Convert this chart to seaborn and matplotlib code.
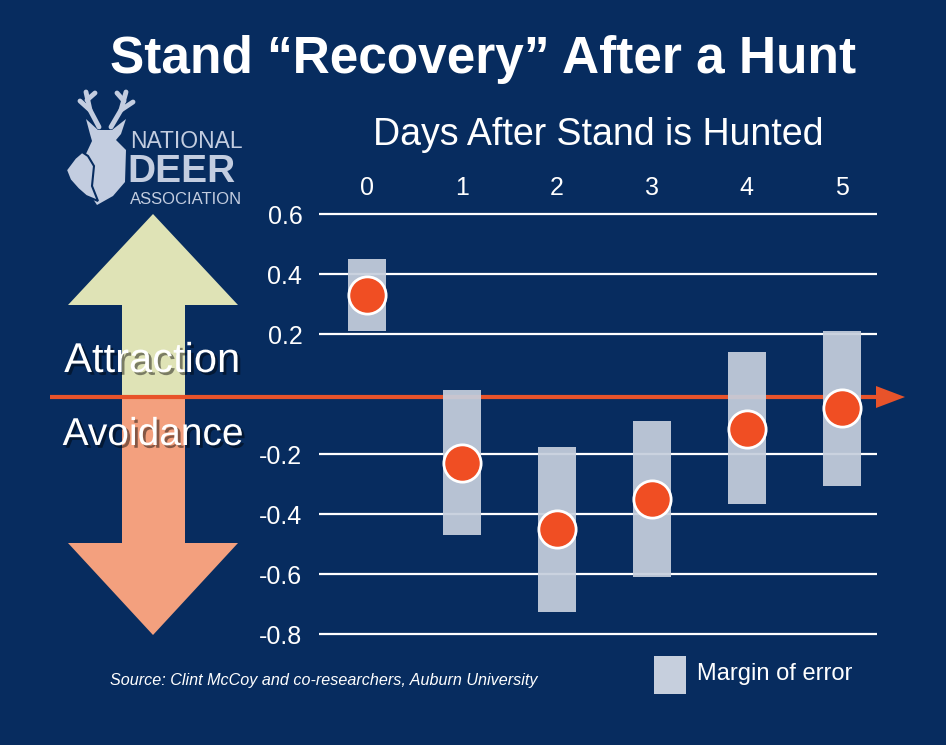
import matplotlib
matplotlib.use("Agg")
import matplotlib.pyplot as plt
import matplotlib.patheffects as pe
from matplotlib.patches import Polygon, Rectangle
import pandas as pd
import seaborn as sns

# data
days = [0, 1, 2, 3, 4, 5]
estimate = [0.33, -0.23, -0.45, -0.35, -0.115, -0.045]
lower = [0.21, -0.47, -0.725, -0.61, -0.365, -0.305]
upper = [0.45, 0.015, -0.175, -0.09, 0.14, 0.21]
y_ticks = [0.6, 0.4, 0.2, -0.2, -0.4, -0.6, -0.8]
y_labels = ["0.6", "0.4", "0.2", "-0.2", "-0.4", "-0.6", "-0.8"]

df = pd.DataFrame({"day": days, "est": estimate, "lo": lower, "hi": upper})

NAVY = "#072c5f"
BAR = "#c6cfdd"
DOT = "#f04e23"
LINE = "#e8532a"
UP = "#dfe3b6"
DOWN = "#f3a07e"
LOGO = "#c3cde0"

sns.set_theme(style="white")
plt.rcParams["font.family"] = ["Liberation Sans", "DejaVu Sans"]

fig = plt.figure(figsize=(9.46, 7.45), dpi=100, facecolor=NAVY)

# background / decoration layer in pixel coordinates (y downwards)
bg = fig.add_axes([0, 0, 1, 1], zorder=0)
bg.set_xlim(0, 946)
bg.set_ylim(745, 0)
bg.axis("off")
bg.set_facecolor(NAVY)

# big attraction / avoidance arrows
up = [(153, 214), (238, 305), (185, 305), (185, 397), (122, 397), (122, 305), (68, 305)]
down = [(122, 397), (185, 397), (185, 543), (238, 543), (153, 635), (68, 543), (122, 543)]
bg.add_patch(Polygon(up, closed=True, fc=UP, ec="none"))
bg.add_patch(Polygon(down, closed=True, fc=DOWN, ec="none"))

# orange zero line with arrow head
bg.plot([50, 878], [397, 397], color=LINE, lw=3, solid_capstyle="butt")
bg.add_patch(Polygon([(876, 386), (905, 397), (876, 408)], closed=True, fc=LINE, ec="none"))

shadow = [pe.SimplePatchShadow(offset=(2, -2), shadow_rgbFace="black", alpha=0.45), pe.Normal()]
bg.text(152, 361, "Attraction", color="white", fontsize=30, ha="center", va="center",
        path_effects=shadow)
bg.text(153, 435, "Avoidance", color="white", fontsize=28, ha="center", va="center",
        path_effects=shadow)

# title
bg.text(483, 60, "Stand \u201cRecovery\u201d After a Hunt", color="white", fontsize=37,
        fontweight="bold", ha="center", va="center")
bg.text(598, 135, "Days After Stand is Hunted", color="white", fontsize=27,
        ha="center", va="center")

# rough logo: buck + doe silhouette and lettering
buck = [(86, 119), (98, 130), (112, 130), (126, 119), (121, 134), (116, 140),
        (126, 150), (125, 182), (113, 196), (97, 205), (91, 196), (89, 176), (85, 156),
        (92, 141), (90, 134)]
doe = [(66, 170), (75, 158), (82, 152), (88, 156), (94, 166), (92, 186), (98, 201),
       (86, 196), (78, 189), (70, 180)]
bg.add_patch(Polygon(buck, closed=True, fc=LOGO, ec="none"))
bg.add_patch(Polygon(doe, closed=True, fc=LOGO, ec=NAVY, lw=1.5))
for xs, ys in [([99, 90, 86], [127, 110, 92]), ([90, 80], [110, 101]), ([87, 95], [100, 93]),
               ([111, 121, 126], [127, 110, 92]), ([121, 133], [110, 102]), ([124, 117], [101, 93])]:
    bg.plot(xs, ys, color=LOGO, lw=3.5, solid_capstyle="round")
bg.text(130, 141, "NATIONAL", color=LOGO, fontsize=16.5, ha="left", va="center")
bg.text(127, 172, "DEER", color=LOGO, fontsize=28, fontweight="bold", ha="left", va="center")
bg.text(130, 200, "ASSOCIATION", color=LOGO, fontsize=12, ha="left", va="center")

# source and legend
bg.text(110, 681, "Source: Clint McCoy and co-researchers, Auburn University", color="white",
        fontsize=11.6, style="italic", ha="left", va="center")
bg.add_patch(Rectangle((654, 656), 32, 38, fc=BAR, ec="none"))
bg.text(697, 674, "Margin of error", color="white", fontsize=17, ha="left", va="center")

# main data axes
ax = fig.add_axes([319 / 946, 1 - 640 / 745, 558 / 946, 432 / 745], zorder=1)
ax.set_facecolor("none")
ax.bar(df["day"], df["hi"] - df["lo"], bottom=df["lo"], width=0.4, color=BAR,
       alpha=0.93, edgecolor="none", linewidth=0, zorder=2)
sns.scatterplot(data=df, x="day", y="est", ax=ax, s=720, color=DOT, edgecolor="white",
                linewidth=2, zorder=3, legend=False)

ax.set_xlim(-0.5, 5.37)
ax.set_ylim(-0.82, 0.62)
ax.set_yticks(y_ticks)
ax.set_yticklabels(y_labels)
ax.set_xticks(days)
ax.set_xticklabels([str(d) for d in days])
ax.xaxis.tick_top()
ax.tick_params(axis="both", length=0, colors="white", labelsize=18)
ax.tick_params(axis="y", pad=12)
ax.tick_params(axis="x", pad=6)
ax.grid(axis="y", color="white", lw=1.6)
ax.grid(axis="x", visible=False)
ax.set_axisbelow(True)
ax.set_xlabel("")
ax.set_ylabel("")
for s in ax.spines.values():
    s.set_visible(False)

fig.savefig("out.png", dpi=100, facecolor=NAVY)
